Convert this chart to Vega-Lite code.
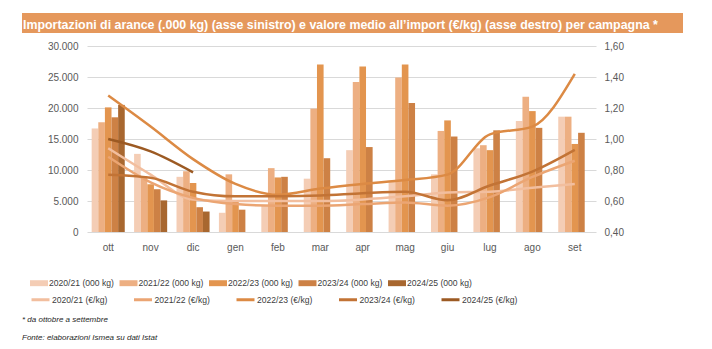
{
  "$schema": "https://vega.github.io/schema/vega-lite/v6.json",
  "padding": {"left": 22, "top": 13, "right": 0, "bottom": 0},
  "background": "white",
  "config": {
    "locale": {"number": {"decimal": ",", "thousands": ".", "grouping": [3], "currency": ["€", ""]}},
    "view": {"stroke": null}
  },
  "datasets": {
    "barre": [
      {"mese": "ott", "serie": "2020/21 (000 kg)", "valore": 16700},
      {"mese": "ott", "serie": "2021/22 (000 kg)", "valore": 17700},
      {"mese": "ott", "serie": "2022/23 (000 kg)", "valore": 20100},
      {"mese": "ott", "serie": "2023/24 (000 kg)", "valore": 18500},
      {"mese": "ott", "serie": "2024/25 (000 kg)", "valore": 20500},
      {"mese": "nov", "serie": "2020/21 (000 kg)", "valore": 12600},
      {"mese": "nov", "serie": "2021/22 (000 kg)", "valore": 9000},
      {"mese": "nov", "serie": "2022/23 (000 kg)", "valore": 7700},
      {"mese": "nov", "serie": "2023/24 (000 kg)", "valore": 6900},
      {"mese": "nov", "serie": "2024/25 (000 kg)", "valore": 5100},
      {"mese": "dic", "serie": "2020/21 (000 kg)", "valore": 8900},
      {"mese": "dic", "serie": "2021/22 (000 kg)", "valore": 9800},
      {"mese": "dic", "serie": "2022/23 (000 kg)", "valore": 7900},
      {"mese": "dic", "serie": "2023/24 (000 kg)", "valore": 4000},
      {"mese": "dic", "serie": "2024/25 (000 kg)", "valore": 3300},
      {"mese": "gen", "serie": "2020/21 (000 kg)", "valore": 3100},
      {"mese": "gen", "serie": "2021/22 (000 kg)", "valore": 9300},
      {"mese": "gen", "serie": "2022/23 (000 kg)", "valore": 5000},
      {"mese": "gen", "serie": "2023/24 (000 kg)", "valore": 3600},
      {"mese": "feb", "serie": "2020/21 (000 kg)", "valore": 4300},
      {"mese": "feb", "serie": "2021/22 (000 kg)", "valore": 10300},
      {"mese": "feb", "serie": "2022/23 (000 kg)", "valore": 8800},
      {"mese": "feb", "serie": "2023/24 (000 kg)", "valore": 8900},
      {"mese": "mar", "serie": "2020/21 (000 kg)", "valore": 8600},
      {"mese": "mar", "serie": "2021/22 (000 kg)", "valore": 19900},
      {"mese": "mar", "serie": "2022/23 (000 kg)", "valore": 27000},
      {"mese": "mar", "serie": "2023/24 (000 kg)", "valore": 11900},
      {"mese": "apr", "serie": "2020/21 (000 kg)", "valore": 13200},
      {"mese": "apr", "serie": "2021/22 (000 kg)", "valore": 24200},
      {"mese": "apr", "serie": "2022/23 (000 kg)", "valore": 26700},
      {"mese": "apr", "serie": "2023/24 (000 kg)", "valore": 13700},
      {"mese": "mag", "serie": "2020/21 (000 kg)", "valore": 8200},
      {"mese": "mag", "serie": "2021/22 (000 kg)", "valore": 24900},
      {"mese": "mag", "serie": "2022/23 (000 kg)", "valore": 27000},
      {"mese": "mag", "serie": "2023/24 (000 kg)", "valore": 20800},
      {"mese": "giu", "serie": "2020/21 (000 kg)", "valore": 9300},
      {"mese": "giu", "serie": "2021/22 (000 kg)", "valore": 16300},
      {"mese": "giu", "serie": "2022/23 (000 kg)", "valore": 18000},
      {"mese": "giu", "serie": "2023/24 (000 kg)", "valore": 15400},
      {"mese": "lug", "serie": "2020/21 (000 kg)", "valore": 13500},
      {"mese": "lug", "serie": "2021/22 (000 kg)", "valore": 14000},
      {"mese": "lug", "serie": "2022/23 (000 kg)", "valore": 13200},
      {"mese": "lug", "serie": "2023/24 (000 kg)", "valore": 16400},
      {"mese": "ago", "serie": "2020/21 (000 kg)", "valore": 17900},
      {"mese": "ago", "serie": "2021/22 (000 kg)", "valore": 21800},
      {"mese": "ago", "serie": "2022/23 (000 kg)", "valore": 19500},
      {"mese": "ago", "serie": "2023/24 (000 kg)", "valore": 16800},
      {"mese": "set", "serie": "2020/21 (000 kg)", "valore": 18600},
      {"mese": "set", "serie": "2021/22 (000 kg)", "valore": 18600},
      {"mese": "set", "serie": "2022/23 (000 kg)", "valore": 14200},
      {"mese": "set", "serie": "2023/24 (000 kg)", "valore": 16000}
    ],
    "linee": [
      {"mese": "ott", "serie": "2020/21 (€/kg)", "prezzo": 0.94},
      {"mese": "nov", "serie": "2020/21 (€/kg)", "prezzo": 0.77},
      {"mese": "dic", "serie": "2020/21 (€/kg)", "prezzo": 0.61},
      {"mese": "gen", "serie": "2020/21 (€/kg)", "prezzo": 0.6},
      {"mese": "feb", "serie": "2020/21 (€/kg)", "prezzo": 0.6},
      {"mese": "mar", "serie": "2020/21 (€/kg)", "prezzo": 0.6},
      {"mese": "apr", "serie": "2020/21 (€/kg)", "prezzo": 0.61},
      {"mese": "mag", "serie": "2020/21 (€/kg)", "prezzo": 0.63},
      {"mese": "giu", "serie": "2020/21 (€/kg)", "prezzo": 0.655},
      {"mese": "lug", "serie": "2020/21 (€/kg)", "prezzo": 0.66},
      {"mese": "ago", "serie": "2020/21 (€/kg)", "prezzo": 0.685},
      {"mese": "set", "serie": "2020/21 (€/kg)", "prezzo": 0.71},
      {"mese": "ott", "serie": "2021/22 (€/kg)", "prezzo": 0.885},
      {"mese": "nov", "serie": "2021/22 (€/kg)", "prezzo": 0.72},
      {"mese": "dic", "serie": "2021/22 (€/kg)", "prezzo": 0.62},
      {"mese": "gen", "serie": "2021/22 (€/kg)", "prezzo": 0.58},
      {"mese": "feb", "serie": "2021/22 (€/kg)", "prezzo": 0.57},
      {"mese": "mar", "serie": "2021/22 (€/kg)", "prezzo": 0.57},
      {"mese": "apr", "serie": "2021/22 (€/kg)", "prezzo": 0.58},
      {"mese": "mag", "serie": "2021/22 (€/kg)", "prezzo": 0.59},
      {"mese": "giu", "serie": "2021/22 (€/kg)", "prezzo": 0.57},
      {"mese": "lug", "serie": "2021/22 (€/kg)", "prezzo": 0.625},
      {"mese": "ago", "serie": "2021/22 (€/kg)", "prezzo": 0.755},
      {"mese": "set", "serie": "2021/22 (€/kg)", "prezzo": 0.86},
      {"mese": "ott", "serie": "2022/23 (€/kg)", "prezzo": 1.28},
      {"mese": "nov", "serie": "2022/23 (€/kg)", "prezzo": 1.08},
      {"mese": "dic", "serie": "2022/23 (€/kg)", "prezzo": 0.87},
      {"mese": "gen", "serie": "2022/23 (€/kg)", "prezzo": 0.71},
      {"mese": "feb", "serie": "2022/23 (€/kg)", "prezzo": 0.64},
      {"mese": "mar", "serie": "2022/23 (€/kg)", "prezzo": 0.68},
      {"mese": "apr", "serie": "2022/23 (€/kg)", "prezzo": 0.71},
      {"mese": "mag", "serie": "2022/23 (€/kg)", "prezzo": 0.735},
      {"mese": "giu", "serie": "2022/23 (€/kg)", "prezzo": 0.77},
      {"mese": "lug", "serie": "2022/23 (€/kg)", "prezzo": 1.03},
      {"mese": "ago", "serie": "2022/23 (€/kg)", "prezzo": 1.08},
      {"mese": "set", "serie": "2022/23 (€/kg)", "prezzo": 1.42},
      {"mese": "ott", "serie": "2023/24 (€/kg)", "prezzo": 0.77},
      {"mese": "nov", "serie": "2023/24 (€/kg)", "prezzo": 0.75},
      {"mese": "dic", "serie": "2023/24 (€/kg)", "prezzo": 0.66},
      {"mese": "gen", "serie": "2023/24 (€/kg)", "prezzo": 0.63},
      {"mese": "feb", "serie": "2023/24 (€/kg)", "prezzo": 0.63},
      {"mese": "mar", "serie": "2023/24 (€/kg)", "prezzo": 0.635},
      {"mese": "apr", "serie": "2023/24 (€/kg)", "prezzo": 0.65},
      {"mese": "mag", "serie": "2023/24 (€/kg)", "prezzo": 0.66},
      {"mese": "giu", "serie": "2023/24 (€/kg)", "prezzo": 0.605},
      {"mese": "lug", "serie": "2023/24 (€/kg)", "prezzo": 0.7},
      {"mese": "ago", "serie": "2023/24 (€/kg)", "prezzo": 0.79},
      {"mese": "set", "serie": "2023/24 (€/kg)", "prezzo": 0.93},
      {"mese": "ott", "serie": "2024/25 (€/kg)", "prezzo": 1.0},
      {"mese": "nov", "serie": "2024/25 (€/kg)", "prezzo": 0.92},
      {"mese": "dic", "serie": "2024/25 (€/kg)", "prezzo": 0.785}
    ]
  },
  "title": {
    "text": ["* da ottobre a settembre", "Fonte: elaborazioni Ismea su dati Istat"],
    "orient": "bottom",
    "anchor": "start",
    "font": "Liberation Sans",
    "fontSize": 8,
    "fontStyle": "italic",
    "fontWeight": "normal",
    "color": "#262626",
    "lineHeight": 18,
    "offset": 10
  },
  "width": 509,
  "height": 186,
  "layer": [
    {
      "data": {"name": "barre"},
      "mark": {"type": "bar"},
      "encoding": {
        "x": {
          "field": "mese",
          "type": "nominal",
          "sort": ["ott", "nov", "dic", "gen", "feb", "mar", "apr", "mag", "giu", "lug", "ago", "set"],
          "scale": {"paddingInner": 0.22, "paddingOuter": 0.11},
          "axis": {
            "title": null,
            "labelAngle": 0,
            "domain": false,
            "ticks": false,
            "labelPadding": 10,
            "labelFont": "Liberation Sans",
            "labelFontSize": 10,
            "labelColor": "#595959"
          }
        },
        "xOffset": {
          "field": "serie",
          "type": "nominal",
          "scale": {"domain": ["2020/21 (000 kg)", "2021/22 (000 kg)", "2022/23 (000 kg)", "2023/24 (000 kg)", "2024/25 (000 kg)"], "paddingInner": 0, "paddingOuter": 0}
        },
        "y": {
          "field": "valore",
          "type": "quantitative",
          "scale": {"domain": [0, 30000], "nice": false},
          "axis": {
            "title": null,
            "values": [0, 5000, 10000, 15000, 20000, 25000, 30000],
            "format": ",.0f",
            "domain": false,
            "ticks": false,
            "labelPadding": 9,
            "gridColor": "#D9D9D9",
            "gridWidth": 1,
            "labelFont": "Liberation Sans",
            "labelFontSize": 10,
            "labelColor": "#595959"
          }
        },
        "color": {
          "field": "serie",
          "type": "nominal",
          "scale": {
            "domain": ["2020/21 (000 kg)", "2021/22 (000 kg)", "2022/23 (000 kg)", "2023/24 (000 kg)", "2024/25 (000 kg)"],
            "range": ["#F4CDB5", "#EDAF82", "#E3954F", "#CD8145", "#A8672F"]
          },
          "legend": {
            "title": null,
            "orient": "none",
            "legendX": -57,
            "legendY": 228,
            "direction": "horizontal",
            "columns": 5,
            "columnPadding": 5.5,
            "padding": 0,
            "symbolType": "M-1,-0.33H1V0.33H-1Z",
            "symbolSize": 324,
            "symbolStrokeWidth": 0,
            "labelOffset": 1,
            "labelFont": "Liberation Sans",
            "labelFontSize": 8.6,
            "labelColor": "#404040"
          }
        }
      }
    },
    {
      "data": {"name": "linee"},
      "mark": {"type": "line", "interpolate": "monotone", "strokeWidth": 2.5},
      "encoding": {
        "x": {
          "field": "mese",
          "type": "nominal",
          "sort": ["ott", "nov", "dic", "gen", "feb", "mar", "apr", "mag", "giu", "lug", "ago", "set"]
        },
        "y": {
          "field": "prezzo",
          "type": "quantitative",
          "scale": {"domain": [0.4, 1.6], "nice": false, "zero": false},
          "axis": {
            "title": null,
            "orient": "right",
            "values": [0.4, 0.6, 0.8, 1.0, 1.2, 1.4, 1.6],
            "format": ".2f",
            "grid": false,
            "domain": false,
            "ticks": false,
            "labelPadding": 8,
            "labelFont": "Liberation Sans",
            "labelFontSize": 10,
            "labelColor": "#595959"
          }
        },
        "stroke": {
          "field": "serie",
          "type": "nominal",
          "scale": {
            "domain": ["2020/21 (€/kg)", "2021/22 (€/kg)", "2022/23 (€/kg)", "2023/24 (€/kg)", "2024/25 (€/kg)"],
            "range": ["#F2BE9E", "#EBA573", "#DC8A44", "#C27335", "#9C5A23"]
          },
          "legend": {
            "title": null,
            "orient": "none",
            "legendX": -57,
            "legendY": 243,
            "direction": "horizontal",
            "columns": 5,
            "columnPadding": 19.5,
            "padding": 0,
            "symbolType": "stroke",
            "symbolSize": 324,
            "symbolStrokeWidth": 3,
            "labelOffset": 1,
            "labelFont": "Liberation Sans",
            "labelFontSize": 8.6,
            "labelColor": "#404040"
          }
        }
      }
    },
    {
      "data": {"values": [{"titolo": "Importazioni di arance"}]},
      "mark": {"type": "point", "opacity": 0},
      "encoding": {
        "shape": {
          "field": "titolo",
          "type": "nominal",
          "legend": {
            "title": "Importazioni di arance (.000 kg) (asse sinistro) e valore medio all’import (€/kg) (asse destro) per campagna *",
            "orient": "none",
            "legendX": -65,
            "legendY": -33,
            "direction": "horizontal",
            "titleOrient": "left",
            "titleFont": "Liberation Sans",
            "titleFontSize": 12.4,
            "titleFontWeight": "bold",
            "titleColor": "#ffffff",
            "titleLimit": 1000,
            "titlePadding": 0,
            "titleBaseline": "top",
            "fillColor": "#E5985C",
            "padding": 1,
            "symbolSize": 0,
            "symbolOpacity": 0,
            "symbolStrokeWidth": 0,
            "labelExpr": "'MM'",
            "labelOffset": 0,
            "labelFont": "Liberation Sans",
            "labelFontSize": 9,
            "labelColor": "#E5985C"
          }
        }
      }
    }
  ],
  "resolve": {"scale": {"y": "independent"}}
}
